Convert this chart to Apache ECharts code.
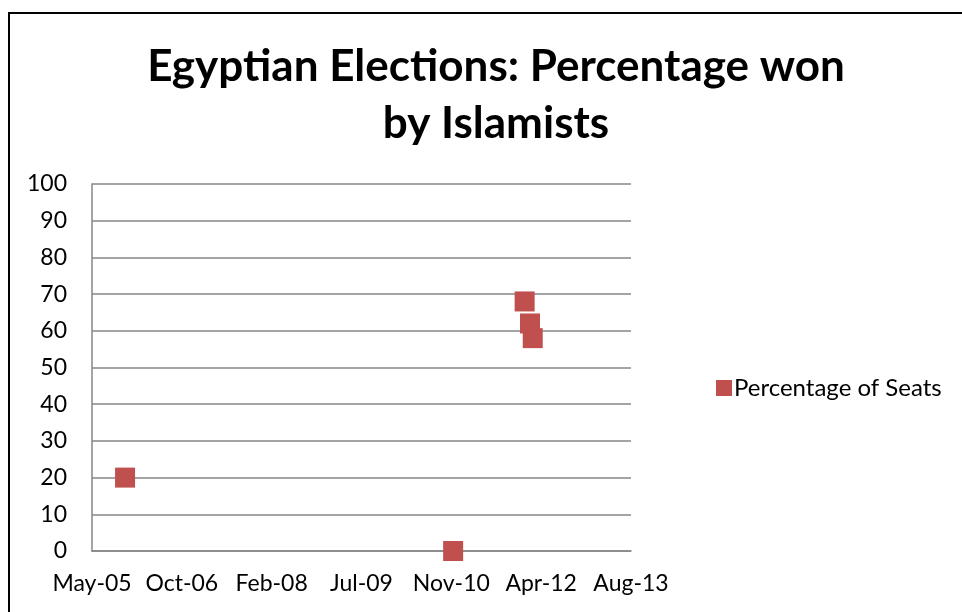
<!DOCTYPE html>
<html>
<head>
<meta charset="utf-8">
<script src="https://cdn.jsdelivr.net/npm/echarts@6/dist/echarts.min.js"></script>
<style>
html,body{margin:0;padding:0;background:#fff;}
#chart{width:962px;height:612px;}
</style>
</head>
<body>
<div id="chart"></div>
<script>
// Data
var electionDates = ['2005-11-28', '2010-11-28', '2011-12-31', '2012-01-30', '2012-02-14'];
var seatPercent = [20, 0, 68, 62, 58];
var seriesName = 'Percentage of Seats';
var titleText = 'Egyptian Elections: Percentage won\nby Islamists';
var monthNames = ['Jan','Feb','Mar','Apr','May','Jun','Jul','Aug','Sep','Oct','Nov','Dec'];

// Excel serial date helpers
var EPOCH = Date.UTC(1899, 11, 30);
function toSerial(s) {
  var p = s.split('-');
  return Math.round((Date.UTC(+p[0], +p[1] - 1, +p[2]) - EPOCH) / 86400000);
}
function serialLabel(v) {
  var d = new Date(EPOCH + v * 86400000);
  var yy = String(d.getUTCFullYear() % 100);
  if (yy.length < 2) yy = '0' + yy;
  return monthNames[d.getUTCMonth()] + '-' + yy;
}

var points = electionDates.map(function (d, i) { return [toSerial(d), seatPercent[i]]; });

var font = 'Lato, "Open Sans", sans-serif';
var chart = echarts.init(document.getElementById('chart'), null, {renderer: 'canvas'});
chart.setOption({
  backgroundColor: '#ffffff',
  animation: false,
  title: {
    text: titleText,
    left: 491,
    textAlign: 'center',
    top: 33,
    textStyle: {fontFamily: font, fontSize: 44, fontWeight: 'bold', color: '#000', lineHeight: 57}
  },
  graphic: [{
    type: 'rect',
    shape: {x: 9, y: 13, width: 1000, height: 700},
    style: {fill: null, stroke: '#000', lineWidth: 2},
    silent: true
  }],
  legend: {
    left: 711,
    top: 371,
    icon: 'rect',
    itemWidth: 16,
    itemHeight: 16,
    itemGap: 6,
    textStyle: {fontFamily: font, fontSize: 24, color: '#000', padding: [0,0,0,-3]},
    data: [seriesName]
  },
  grid: {left: 92, right: 331, top: 184, bottom: 61, containLabel: false},
  xAxis: {
    type: 'value',
    min: 38500,
    max: 41500,
    interval: 500,
    axisLine: {show: true, lineStyle: {color: '#868686', width: 1.5}},
    axisTick: {show: false},
    splitLine: {show: false},
    axisLabel: {
      formatter: serialLabel,
      fontFamily: font, fontSize: 23, color: '#000', margin: 21
    }
  },
  yAxis: {
    type: 'value',
    min: 0,
    max: 100,
    interval: 10,
    axisLine: {show: true, lineStyle: {color: '#868686', width: 1.5}},
    axisTick: {show: false},
    splitLine: {show: true, lineStyle: {color: '#868686', width: 1.5}},
    axisLabel: {fontFamily: font, fontSize: 23, color: '#000', margin: 25}
  },
  series: [{
    name: seriesName,
    type: 'scatter',
    symbol: 'rect',
    symbolSize: 20,
    itemStyle: {color: '#C0504D', opacity: 1},
    data: points
  }]
});
</script>
</body>
</html>
